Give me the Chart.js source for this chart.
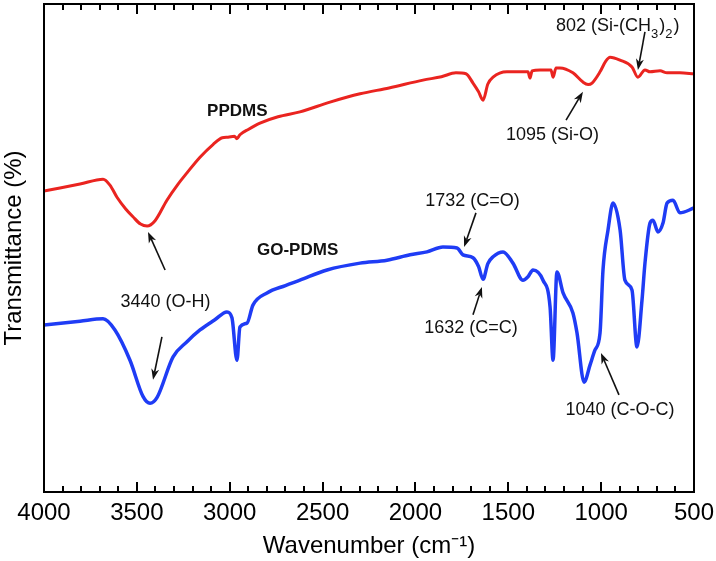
<!DOCTYPE html>
<html>
<head>
<meta charset="utf-8">
<script src="https://cdn.jsdelivr.net/npm/chart.js@4"></script>
<style>
  body { margin: 0; background: #fff; }
</style>
</head>
<body>
<canvas id="ftirChart" width="716" height="561"></canvas>
<script>
// FTIR spectra - PPDMS vs GO-PDMS

const ppdmsWn = [4000, 3914, 3806, 3682, 3645, 3607, 3560, 3521, 3480, 3445, 3402, 3338, 3280, 3230, 3160, 3090, 3040, 3009, 2975, 2961, 2945, 2900,
  2837, 2740, 2622, 2460, 2298, 2142, 1959, 1860, 1782, 1728, 1690, 1660, 1636, 1610, 1582, 1507, 1394, 1383, 1372, 1329, 1270, 1259, 1243, 1222,
  1152, 1098, 1070, 1049, 1006, 975, 952, 898, 834, 802, 764, 737, 683, 645, 576, 500];
const ppdmsT = [61.7, 62.3, 63.1, 64.1, 62.9, 60.4, 58.0, 56.4, 54.9, 54.5, 55.6, 59.8, 63.0, 65.4, 68.6, 71.2, 72.6, 72.7, 72.9, 72.4, 73.2, 74.3,
  75.6, 76.9, 77.9, 79.9, 81.6, 82.8, 84.4, 85.1, 85.9, 85.7, 83.8, 82.0, 80.3, 83.6, 85.0, 86.1, 86.1, 84.8, 86.3, 86.5, 86.5, 85.0, 86.9, 86.9,
  85.9, 84.0, 83.5, 83.8, 86.1, 88.3, 89.1, 88.5, 87.1, 85.0, 86.5, 86.1, 86.3, 85.9, 85.9, 85.7];

const goWn = [4000, 3806, 3682, 3618, 3537, 3467, 3429, 3391, 3305, 3230, 3160, 3080, 3015, 2988, 2961, 2945, 2907, 2875, 2799, 2700, 2622, 2476, 2298, 2153,
  2029, 1938, 1852, 1776, 1744, 1690, 1660, 1636, 1610, 1582, 1528, 1475, 1421, 1394, 1367, 1313, 1275, 1259, 1238, 1205, 1152, 1130,
  1092, 1060, 1033, 1006, 990, 963, 936, 898, 872, 834, 807, 780, 764, 737, 721, 694, 667, 645, 613, 576, 500];
const goT = [34.2, 35.0, 35.5, 33.2, 27.0, 19.6, 18.2, 19.4, 27.7, 30.8, 33.2, 35.3, 36.9, 35.7, 27.0, 33.8, 34.6, 38.3, 40.8, 42.3, 43.4, 45.5, 46.9, 47.5,
  48.6, 49.2, 50.2, 50.0, 48.6, 48.0, 46.2, 43.6, 46.8, 48.2, 49.2, 46.9, 43.4, 44.1, 45.5, 43.4, 37.9, 27.0, 45.1, 40.8, 36.7, 32.6,
  22.5, 26.0, 29.1, 32.6, 45.5, 53.7, 59.2, 53.7, 43.4, 41.4, 29.7, 39.3, 46.9, 55.1, 55.7, 53.3, 55.1, 59.2, 59.8, 57.2, 58.2];

const xTicks = [4000, 3500, 3000, 2500, 2000, 1500, 1000, 500];

const toPoints = (xs, ys) => xs.map((x, i) => ({ x: x, y: ys[i] }));

const FONT = "'Liberation Sans', Arial, sans-serif";

// labels and arrows, placed in data units (wavenumber, transmittance)
const notes = [
  { text: 'PPDMS', x: 3122, y: 78.1, align: 'left', bold: true },
  { text: 'GO-PDMS', x: 2853, y: 49.6, align: 'left', bold: true },
  { text: '3440 (O-H)', x: 3346, y: 38.9 },
  { text: '1095 (Si-O)', x: 1262, y: 73.2 },
  { text: '1732 (C=O)', x: 1693, y: 59.6 },
  { text: '1632 (C=C)', x: 1701, y: 33.6 },
  { text: '1040 (C-O-C)', x: 898, y: 16.8 }
];
const arrows = [
  { from: [3348, 45.5], to: [3440, 53.3] },
  { from: [3365, 31.8], to: [3413, 23.0] },
  { from: [764, 94.3], to: [802, 86.5] },
  { from: [1189, 76.2], to: [1098, 82.0] },
  { from: [1674, 57.2], to: [1738, 50.2] },
  { from: [1690, 36.3], to: [1642, 42.0] },
  { from: [904, 19.9], to: [1001, 28.5] }
];

const framePlugin = {
  id: 'frame',
  afterDraw(chart) {
    const { ctx, chartArea: a, scales } = chart;
    const xs = scales.x, ys = scales.y;
    ctx.save();
    ctx.strokeStyle = '#000';
    ctx.lineWidth = 2;
    ctx.beginPath();
    ctx.rect(a.left, a.top, a.right - a.left, a.bottom - a.top);
    ctx.stroke();

    // inward ticks top and bottom
    ctx.beginPath();
    for (let v = 500; v <= 4000; v += 100) {
      const px = Math.round(xs.getPixelForValue(v));
      const len = v % 500 === 0 ? 10 : 6;
      ctx.moveTo(px, a.bottom); ctx.lineTo(px, a.bottom - len);
      ctx.moveTo(px, a.top); ctx.lineTo(px, a.top + len);
    }
    ctx.stroke();

    // annotation text
    ctx.fillStyle = '#111';
    ctx.textBaseline = 'middle';
    notes.forEach(n => {
      ctx.font = (n.bold ? 'bold 17px ' : '18px ') + FONT;
      ctx.textAlign = n.align || 'center';
      ctx.fillText(n.text, xs.getPixelForValue(n.x), ys.getPixelForValue(n.y));
    });

    // 802 (Si-(CH3)2) with subscripts
    let px = xs.getPixelForValue(1243);
    const py = ys.getPixelForValue(95.5);
    ctx.textAlign = 'left';
    const parts = [['802 (Si-(CH', 0], ['3', 1], [')', 0], ['2', 1], [')', 0]];
    parts.forEach(([t, sub]) => {
      ctx.font = (sub ? '13px ' : '18px ') + FONT;
      ctx.fillText(t, px, py + (sub ? 8 : 0));
      px += ctx.measureText(t).width + (sub ? 1 : 0);
    });

    // arrows
    ctx.strokeStyle = '#111';
    ctx.lineWidth = 1.6;
    arrows.forEach(ar => {
      const x1 = xs.getPixelForValue(ar.from[0]), y1 = ys.getPixelForValue(ar.from[1]);
      const x2 = xs.getPixelForValue(ar.to[0]), y2 = ys.getPixelForValue(ar.to[1]);
      const ang = Math.atan2(y2 - y1, x2 - x1);
      const hl = 11, hw = 4;
      ctx.beginPath();
      ctx.moveTo(x1, y1);
      ctx.lineTo(x2 - Math.cos(ang) * hl * 0.7, y2 - Math.sin(ang) * hl * 0.7);
      ctx.stroke();
      ctx.beginPath();
      ctx.moveTo(x2, y2);
      ctx.lineTo(x2 - Math.cos(ang) * hl - Math.sin(ang) * hw, y2 - Math.sin(ang) * hl + Math.cos(ang) * hw);
      ctx.lineTo(x2 - Math.cos(ang) * hl * 0.7, y2 - Math.sin(ang) * hl * 0.7);
      ctx.lineTo(x2 - Math.cos(ang) * hl + Math.sin(ang) * hw, y2 - Math.sin(ang) * hl - Math.cos(ang) * hw);
      ctx.closePath();
      ctx.fillStyle = '#111';
      ctx.fill();
    });
    ctx.restore();
  }
};

const ctx = document.getElementById('ftirChart').getContext('2d');
new Chart(ctx, {
  type: 'line',
  data: {
    datasets: [
      {
        label: 'PPDMS',
        data: toPoints(ppdmsWn, ppdmsT),
        borderColor: '#ea2420',
        borderWidth: 3,
        pointRadius: 0,
        cubicInterpolationMode: 'monotone'
      },
      {
        label: 'GO-PDMS',
        data: toPoints(goWn, goT),
        borderColor: '#1f3cf5',
        borderWidth: 3.5,
        pointRadius: 0,
        cubicInterpolationMode: 'monotone'
      }
    ]
  },
  options: {
    responsive: false,
    animation: false,
    layout: { padding: { top: 4, right: 22, left: 0, bottom: 0 } },
    plugins: {
      legend: { display: false },
      tooltip: { enabled: false }
    },
    scales: {
      x: {
        type: 'linear',
        reverse: true,
        min: 500,
        max: 4000,
        afterBuildTicks: s => { s.ticks = xTicks.map(v => ({ value: v })); },
        afterFit: s => {
          s.height = 69;
          s.paddingLeft = 0;
          s.paddingRight = 0;
        },
        ticks: {
          color: '#000',
          padding: -1,
          maxRotation: 0,
          font: { family: FONT, size: 24 },
          callback: v => String(v)
        },
        grid: { display: false },
        border: { display: false },
        title: {
          display: true,
          text: 'Wavenumber (cm\u207B\u00B9)',
          color: '#000',
          font: { family: FONT, size: 24 },
          padding: { top: 0, bottom: 0 }
        }
      },
      y: {
        min: 0,
        max: 100,
        afterFit: s => {
          s.width = 44;
          s.paddingTop = 0;
          s.paddingBottom = 0;
        },
        ticks: { display: false },
        grid: { display: false },
        border: { display: false },
        title: {
          display: true,
          text: 'Transmittance (%)',
          color: '#000',
          font: { family: FONT, size: 24 },
          padding: { top: 0, bottom: 0 }
        }
      }
    }
  },
  plugins: [framePlugin]
});
</script>
</body>
</html>
